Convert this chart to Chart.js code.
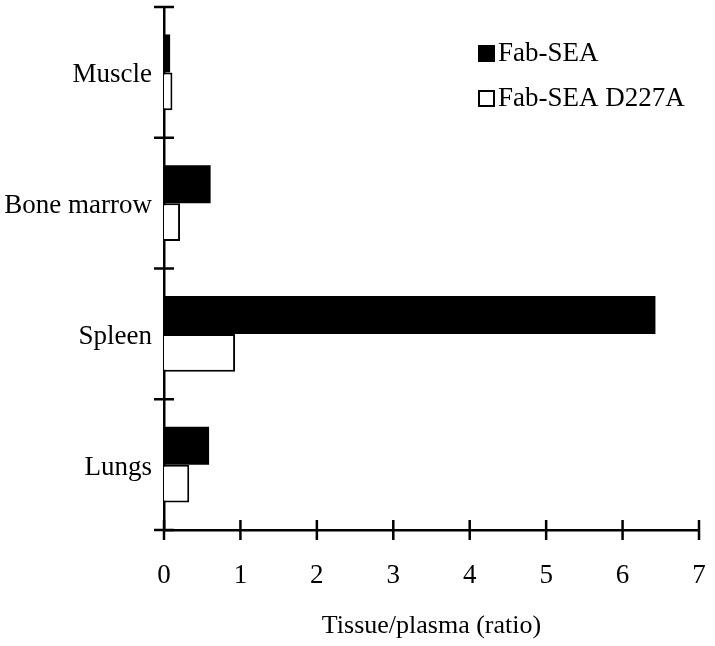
<!DOCTYPE html>
<html>
<head>
<meta charset="utf-8">
<script src="https://cdn.jsdelivr.net/npm/chart.js@4"></script>
<style>
  html, body { margin: 0; padding: 0; background: #fff; }
  #wrap { width: 715px; height: 646px; }
</style>
</head>
<body>
<div id="wrap"><canvas id="chart" width="715" height="646"></canvas></div>
<script>
// data
const tissues = ['Muscle', 'Bone marrow', 'Spleen', 'Lungs'];
const fabSea = [0.08, 0.61, 6.43, 0.59];
const fabSeaD227A = [0.11, 0.21, 0.93, 0.33];
const xTicks = [0, 1, 2, 3, 4, 5, 6, 7];

const SERIF = "'Liberation Serif', 'Times New Roman', serif";

// cross-shaped tick marks on both axes + legend box in the upper right
const axisMarks = {
  id: 'axisMarks',
  afterDraw(chart) {
    const { ctx, chartArea, scales } = chart;
    const x = scales.x, y = scales.y;
    ctx.save();
    ctx.strokeStyle = '#000';
    ctx.lineWidth = 2.5;
    // x ticks
    xTicks.forEach(v => {
      const px = x.getPixelForValue(v);
      ctx.beginPath();
      ctx.moveTo(px, chartArea.bottom - 10);
      ctx.lineTo(px, chartArea.bottom + 10);
      ctx.stroke();
    });
    // y ticks at category boundaries
    const half = (y.getPixelForValue(1) - y.getPixelForValue(0)) / 2;
    for (let i = 0; i <= tissues.length; i++) {
      const py = y.getPixelForValue(i) - half;
      ctx.beginPath();
      ctx.moveTo(chartArea.left - 10, py);
      ctx.lineTo(chartArea.left + 10, py);
      ctx.stroke();
    }

    // legend
    ctx.font = '27px ' + SERIF;
    ctx.textBaseline = 'middle';
    ctx.fillStyle = '#000';
    chart.data.datasets.forEach((ds, i) => {
      const lx = 478, ly = 53 + i * 45;
      if (ds.backgroundColor === '#000000') {
        ctx.fillRect(lx, ly - 8, 17, 17);
      } else {
        ctx.lineWidth = 2;
        ctx.strokeRect(lx + 1, ly - 7, 15, 15);
      }
      ctx.fillText(ds.label, lx + 20, ly + 1);
    });
    ctx.restore();
  }
};

new Chart(document.getElementById('chart'), {
  type: 'bar',
  data: {
    labels: tissues,
    datasets: [
      {
        label: 'Fab-SEA',
        data: fabSea,
        backgroundColor: '#000000',
        borderColor: '#000000',
        borderWidth: 0
      },
      {
        label: 'Fab-SEA D227A',
        data: fabSeaD227A,
        backgroundColor: '#ffffff',
        borderColor: '#000000',
        borderWidth: 2
      }
    ]
  },
  options: {
    indexAxis: 'y',
    responsive: false,
    animation: false,
    layout: { padding: { top: 7, right: 16, left: 0, bottom: 0 } },
    categoryPercentage: 0.58,
    barPercentage: 1.0,
    plugins: {
      legend: { display: false },
      tooltip: { enabled: false }
    },
    scales: {
      x: {
        min: 0,
        max: 7,
        ticks: {
          stepSize: 1,
          color: '#000',
          padding: 30,
          font: { family: SERIF, size: 27 }
        },
        grid: { display: false, drawTicks: false },
        border: { display: true, color: '#000', width: 2.5 },
        title: {
          display: true,
          text: 'Tissue/plasma (ratio)',
          color: '#000',
          font: { family: SERIF, size: 26 },
          padding: { top: 0, bottom: 4 }
        },
        afterFit(scale) {
          scale.height = 116;
          scale.paddingLeft = 0;
          scale.paddingRight = 0;
        }
      },
      y: {
        ticks: {
          color: '#000',
          padding: 12,
          labelOffset: 3,
          font: { family: SERIF, size: 27 }
        },
        grid: { display: false, drawTicks: false },
        border: { display: true, color: '#000', width: 2.5 },
        afterFit(scale) {
          scale.width = 164;
          scale.paddingTop = 0;
          scale.paddingBottom = 0;
        }
      }
    }
  },
  plugins: [axisMarks]
});
</script>
</body>
</html>
